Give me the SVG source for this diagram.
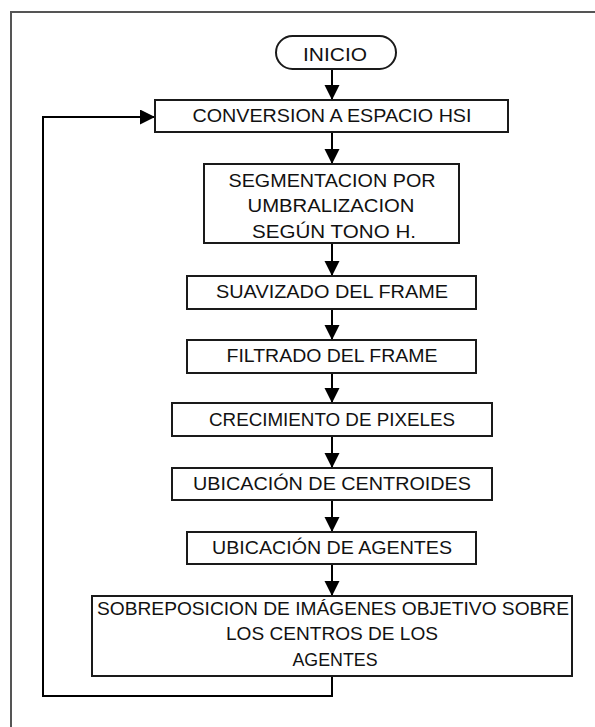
<svg xmlns="http://www.w3.org/2000/svg" width="595" height="727" viewBox="0 0 595 727">
  <style>
    .box { fill: #ffffff; stroke: #1a1a1a; stroke-width: 2; }
    .lbl { font-family: "Liberation Sans", Arial, sans-serif; font-size: 18px; fill: #111111; text-anchor: middle; }
    .wire { fill: none; stroke: #000000; stroke-width: 2; }
  </style>
  <defs>
    <marker id="arrow" markerUnits="userSpaceOnUse" markerWidth="16" markerHeight="16" refX="15" refY="7.5" orient="auto">
      <path d="M0,0 L15,7.5 L0,15 z" fill="#000000"/>
    </marker>
  </defs>

  <rect width="595" height="727" fill="#ffffff"/>
  <!-- page frame (continues past the right and bottom edges) -->
  <path d="M11,740 L11,12 L600,12" fill="none" stroke="#555555" stroke-width="2"/>

  <g id="connectors">
    <line class="wire" x1="332" y1="69" x2="332" y2="100" marker-end="url(#arrow)"/>
    <line class="wire" x1="332" y1="132" x2="332" y2="164" marker-end="url(#arrow)"/>
    <line class="wire" x1="332" y1="243" x2="332" y2="276" marker-end="url(#arrow)"/>
    <line class="wire" x1="332" y1="309" x2="332" y2="340" marker-end="url(#arrow)"/>
    <line class="wire" x1="332" y1="373" x2="332" y2="403" marker-end="url(#arrow)"/>
    <line class="wire" x1="332" y1="436" x2="332" y2="468" marker-end="url(#arrow)"/>
    <line class="wire" x1="332" y1="500" x2="332" y2="532" marker-end="url(#arrow)"/>
    <line class="wire" x1="332" y1="564" x2="332" y2="596" marker-end="url(#arrow)"/>
    <!-- loop back to the colour conversion step -->
    <polyline class="wire" points="332,676 332,696 43,696 43,117 155,117" marker-end="url(#arrow)"/>
  </g>

  <g id="inicio">
    <rect class="box" x="276" y="36" width="120" height="33" rx="16.5" ry="16.5"/>
    <text class="lbl" x="335" y="61" textLength="64" lengthAdjust="spacingAndGlyphs">INICIO</text>
  </g>

  <g id="conversion">
    <rect class="box" x="155" y="100" width="353" height="32"/>
    <text class="lbl" x="332" y="122" textLength="279" lengthAdjust="spacingAndGlyphs">CONVERSION A ESPACIO HSI</text>
  </g>

  <g id="segmentacion">
    <rect class="box" x="204" y="164" width="255" height="79"/>
    <text class="lbl" x="332" y="187" textLength="207" lengthAdjust="spacingAndGlyphs">SEGMENTACION POR</text>
    <text class="lbl" x="331" y="212" textLength="167" lengthAdjust="spacingAndGlyphs">UMBRALIZACION</text>
    <text class="lbl" x="334" y="238" textLength="164" lengthAdjust="spacingAndGlyphs">SEGÚN TONO H.</text>
  </g>

  <g id="suavizado">
    <rect class="box" x="187" y="276" width="289" height="33"/>
    <text class="lbl" x="332" y="298" textLength="232" lengthAdjust="spacingAndGlyphs">SUAVIZADO DEL FRAME</text>
  </g>

  <g id="filtrado">
    <rect class="box" x="187" y="340" width="289" height="33"/>
    <text class="lbl" x="332" y="362" textLength="211" lengthAdjust="spacingAndGlyphs">FILTRADO DEL FRAME</text>
  </g>

  <g id="crecimiento">
    <rect class="box" x="172" y="403" width="320" height="33"/>
    <text class="lbl" x="332" y="426" textLength="246" lengthAdjust="spacingAndGlyphs">CRECIMIENTO DE PIXELES</text>
  </g>

  <g id="centroides">
    <rect class="box" x="172" y="468" width="320" height="32"/>
    <text class="lbl" x="332" y="490" textLength="278" lengthAdjust="spacingAndGlyphs">UBICACIÓN DE CENTROIDES</text>
  </g>

  <g id="agentes">
    <rect class="box" x="187" y="532" width="289" height="32"/>
    <text class="lbl" x="332" y="554" textLength="240" lengthAdjust="spacingAndGlyphs">UBICACIÓN DE AGENTES</text>
  </g>

  <g id="sobreposicion">
    <rect class="box" x="92" y="596" width="480" height="80"/>
    <text class="lbl" x="333" y="615" textLength="472" lengthAdjust="spacingAndGlyphs">SOBREPOSICION DE IMÁGENES OBJETIVO SOBRE</text>
    <text class="lbl" x="332" y="640" textLength="212" lengthAdjust="spacingAndGlyphs">LOS CENTROS DE LOS</text>
    <text class="lbl" x="335" y="666" textLength="85" lengthAdjust="spacingAndGlyphs">AGENTES</text>
  </g>
</svg>
